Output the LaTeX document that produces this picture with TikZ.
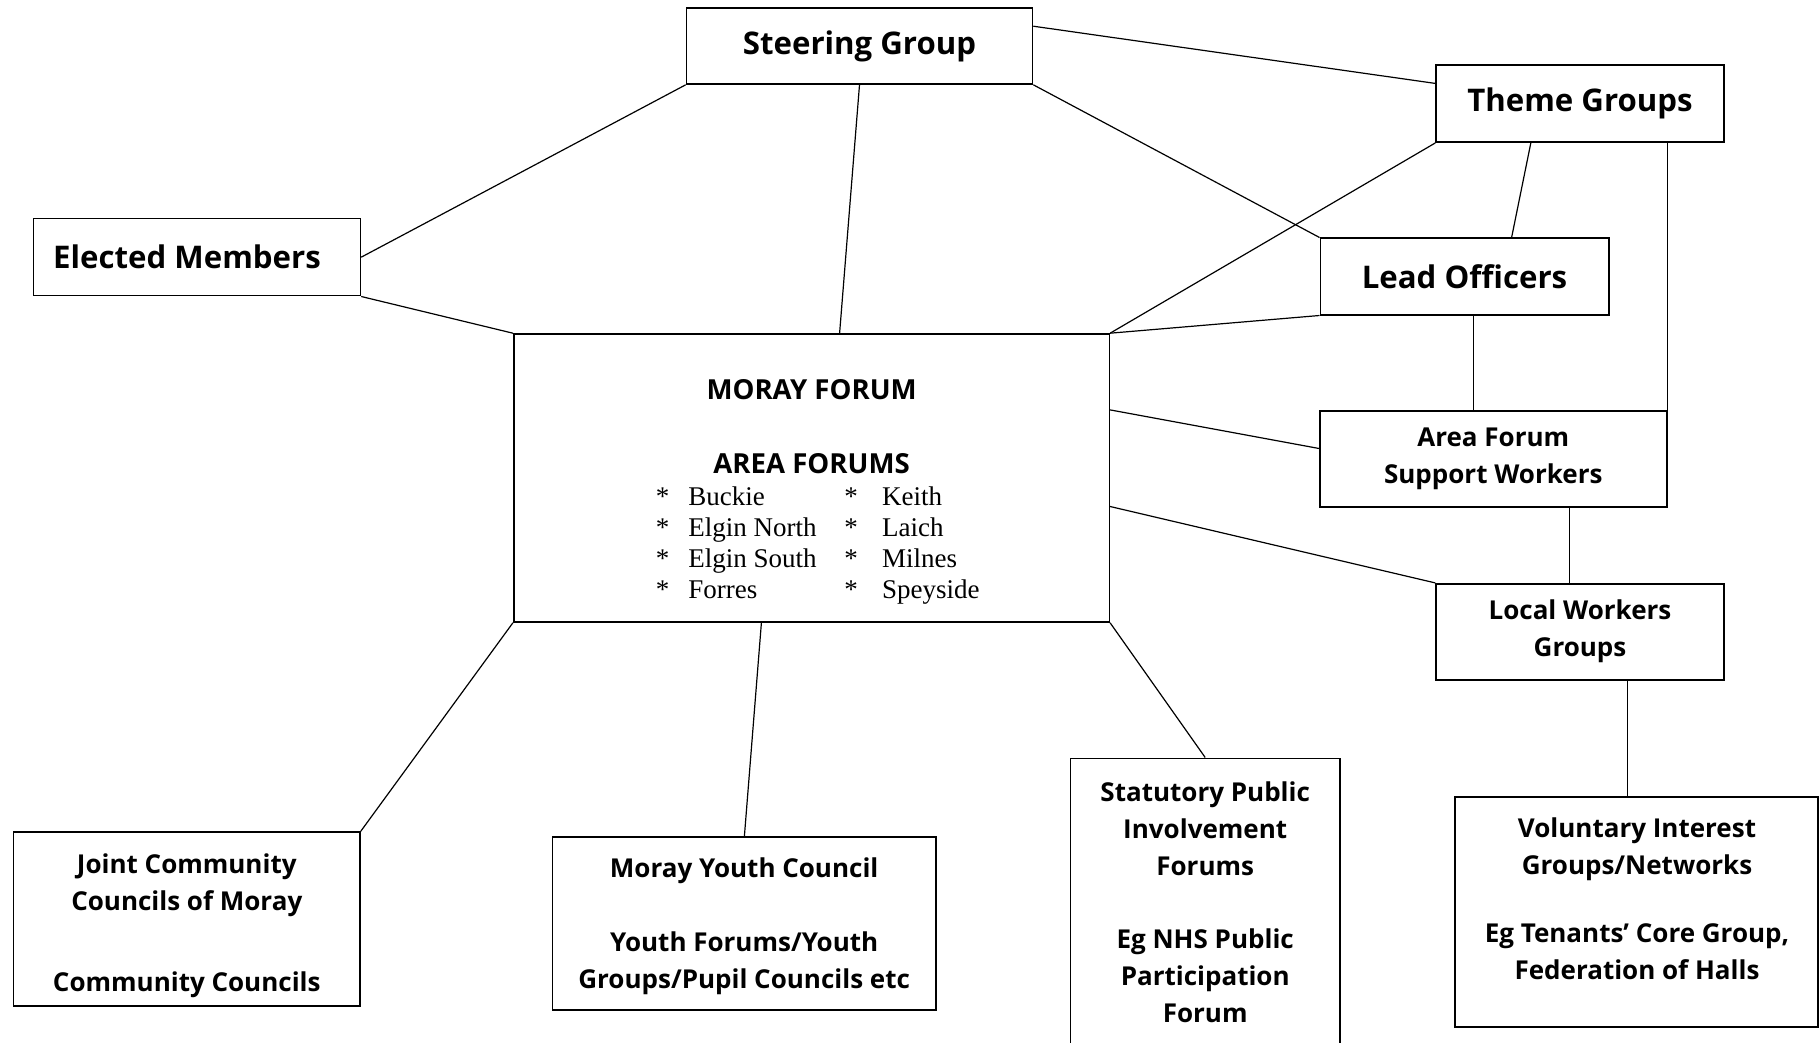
\documentclass[tikz,border=0pt]{standalone}
\usepackage{fontspec}
\setmainfont{Liberation Serif}
\setsansfont{Open Sans}
\usetikzlibrary{calc}

\begin{document}
\begin{tikzpicture}[x=0.5pt,y=-0.5pt,
  box/.style={draw, line width=0.8pt, rectangle, inner sep=0pt, align=center,
    font=\sffamily\bfseries\fontsize{13}{18.5}\selectfont},
  bigbox/.style={box, font=\sffamily\bfseries\fontsize{15.6}{19}\selectfont},
  boxtext/.style={align=center, font=\sffamily\bfseries\fontsize{13}{18.5}\selectfont},
  link/.style={line width=0.6pt}]
\useasboundingbox (0,0) rectangle (1820,1043);

% top row
\node[bigbox, minimum width=173pt, minimum height=38pt] (steer) at (859.5,46) {Steering Group};
\node[bigbox, minimum width=144pt, minimum height=38.5pt] (theme) at (1580,103.7) {Theme Groups};
\node[bigbox, minimum width=163.4pt, minimum height=38.5pt] (elected) at (197,257.2) {Elected Members\hspace*{10pt}};
\node[bigbox, minimum width=144.2pt, minimum height=38.2pt] (lead) at (1464.5,276.5) {Lead Officers};

% the forum in the middle
\node[box, minimum width=297.8pt, minimum height=144pt] (moray) at (811.5,478) {};
\node[font=\sffamily\bfseries\fontsize{13.8}{16}\selectfont] (mftitle) at (811.6,390) {MORAY FORUM};
\node[font=\sffamily\bfseries\fontsize{13.8}{16}\selectfont] (aftitle) at (811.6,464) {AREA FORUMS};
\node[anchor=base west, inner sep=0pt, font=\fontsize{13.5}{15.5}\selectfont] (arealist) at (655.4,505)
 {\begin{tabular}[t]{@{}p{16.3pt}@{}p{78pt}@{}p{18.9pt}@{}l@{}}
  {*} & Buckie & {*} & Keith\\
  {*} & Elgin North & {*} & Laich\\
  {*} & Elgin South & {*} & Milnes\\
  {*} & Forres & {*} & Speyside
 \end{tabular}};

% workers on the right
\node[box, minimum width=173.4pt, minimum height=48pt] (afsw) at (1493.3,459) {Area Forum\\Support Workers};
\node[box, minimum width=144pt, minimum height=48pt] (lwg) at (1580,631.7) {Local Workers\\Groups};

% bottom row
\node[box, minimum width=173.2pt, minimum height=87pt] (joint) at (186.8,919) {};
\node[boxtext] (jointtext) at (186.8,926)
 {Joint Community\\Councils of Moray\\[22pt]Community Councils};
\node[box, minimum width=191.8pt, minimum height=86.5pt] (youth) at (744.2,923.4) {};
\node[boxtext] (youthtext) at (744.2,926)
 {Moray Youth Council\\[18.5pt]Youth Forums/Youth\\Groups/Pupil Councils etc};
\node[box, minimum width=134.6pt, minimum height=143.9pt] (stat) at (1205.2,902.2)
 {Statutory Public\\Involvement\\Forums\\[18pt]Eg NHS Public\\Participation\\Forum};
\node[box, minimum width=181.5pt, minimum height=115pt] (vol) at (1636.5,912) {};
\node[boxtext] (voltext) at (1637,899)
 {Voluntary Interest\\Groups/Networks\\[15.5pt]Eg Tenants' Core Group,\\Federation of Halls};

% links from the steering group
\draw[link] (steer.south west) -- (elected.east);
\draw[link] (steer.south) -- ($(moray.north west)+(326.7,0)$);
\draw[link] ($(steer.north east)+(0,19)$) -- ($(theme.north west)+(0,19)$);
\draw[link] (steer.south east) -- (lead.north west);

% links into the forum
\draw[link] (elected.south east) -- (moray.north west);
\draw[link] (theme.south west) -- (moray.north east);
\draw[link] (lead.south west) -- (moray.north east);
\draw[link] ($(moray.north east)+(0,76.7)$) -- ($(afsw.north west)+(0,38.3)$);
\draw[link] ($(moray.north east)+(0,173.3)$) -- (lwg.north west);

% theme groups and officers
\draw[link] ($(theme.south west)+(95.6,0)$) -- ($(lead.north west)+(192.1,0)$);
\draw[link] (afsw.north east |- theme.south) -- (afsw.north east);
\draw[link] ($(lead.south west)+(153.7,0)$) coordinate (lo) -- (lo |- afsw.north);
\draw[link] ($(afsw.south west)+(250,0)$) coordinate (aw) -- (aw |- lwg.north);
\draw[link] ($(lwg.south west)+(192,0)$) coordinate (lw) -- (lw |- vol.north);

% down to the bottom row
\draw[link] (moray.south west) -- (joint.north east);
\draw[link] ($(moray.south west)+(248.5,0)$) -- ($(youth.north west)+(192.8,0)$);
\draw[link] (moray.south east) -- (stat.north);

\end{tikzpicture}
\end{document}
